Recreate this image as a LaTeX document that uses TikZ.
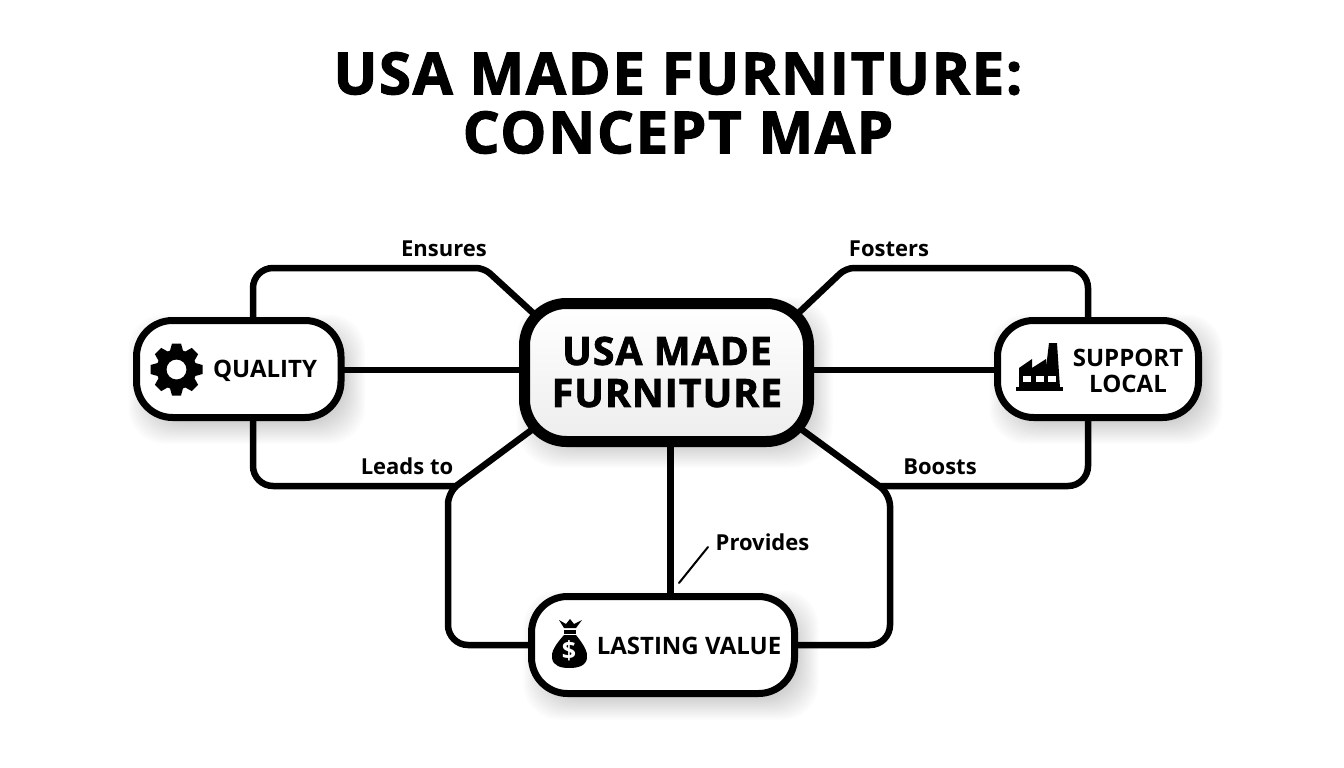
\documentclass[tikz,border=0pt]{standalone}
\usepackage{fontspec}
\usetikzlibrary{positioning}
\setmainfont{Open Sans}
\newfontfamily\heavyfont{Open Sans}[LetterSpace=3, BoldFeatures={FakeBold=2}]
\pgfdeclarelayer{shadow}
\pgfdeclarelayer{links}
\pgfsetlayers{shadow,links,main}
\tikzset{
  box/.style={draw=black, fill=white, line width=7pt, rounded corners=36pt, outer sep=0pt, inner sep=0pt},
  boxtext/.style={font=\bfseries\fontsize{24}{26}\selectfont, align=center, inner sep=0pt, text=black},
  linktext/.style={font=\bfseries\fontsize{22}{24}\selectfont, inner sep=0pt, text=black},
  heading/.style={font=\heavyfont\bfseries\fontsize{58}{59}\selectfont, align=center, inner sep=0pt},
  link/.style={draw=black, line width=6.5pt, rounded corners=20pt},
}
\newcommand{\softshadow}[2]{%
  \begin{pgfonlayer}{shadow}
  \foreach \g in {-6,-4,...,16}{
    \fill[black, opacity=.017, rounded corners=#2]
      ([shift={(8-\g,10-\g)}]#1.north west) rectangle ([shift={(8+\g,10+\g)}]#1.south east);
  }
  \end{pgfonlayer}}
\begin{document}
\begin{tikzpicture}[x=1pt, y=-1pt]
\useasboundingbox (0,0) rectangle (1344,768);
\begin{pgfonlayer}{shadow}
\fill[white] (0,0) rectangle (1344,768);
\end{pgfonlayer}
\node[heading] (title) at (678,103) {USA MADE FURNITURE:\\CONCEPT MAP};
\node[box, line width=11pt, rounded corners=42pt, minimum width=284pt, minimum height=138pt, top color=white, middle color=white, bottom color=black!7] (centre) at (666.5,372.5) {};
\node[font=\heavyfont\bfseries\fontsize{39}{42}\selectfont, align=center, inner sep=0pt] (centretext) at (667,372) {USA MADE\\FURNITURE};
\node[box, minimum width=204.5pt, minimum height=97pt] (quality) at (238.75,369) {};
\node[box, minimum width=201pt, minimum height=97pt] (support) at (1098,369) {};
\node[box, minimum width=263pt, minimum height=97pt] (value) at (663,645) {};
\node[boxtext] (qualitytext) at (265,371) {QUALITY};
\node[boxtext, font=\bfseries\fontsize{24}{26.5}\selectfont] (supporttext) at (1128,371) {SUPPORT\\LOCAL};
\node[boxtext] (valuetext) at (689,645.5) {LASTING VALUE};
\softshadow{centre}{42pt}
\softshadow{quality}{36pt}
\softshadow{support}{36pt}
\softshadow{value}{36pt}
\node[linktext] (ensures) at (444,249) {Ensures};
\node[linktext] (fosters) at (889,249) {Fosters};
\node[linktext] (leads) at (407,466) {Leads to};
\node[linktext] (boosts) at (940,467) {Boosts};
\node[linktext] (provides) at (762.5,542) {Provides};
\coordinate (ensuresA) at (253,268);
\coordinate (ensuresB) at (484,268);
\coordinate (ensuresC) at (545,324);
\coordinate (fostersA) at (1088,268);
\coordinate (fostersB) at (846,268);
\coordinate (fostersC) at (790,321);
\coordinate (leadsA) at (253,486);
\coordinate (leadsB) at (458,486);
\coordinate (boostsA) at (1088,486);
\coordinate (boostsB) at (880,486);
\coordinate (lowleftA) at (448,492);
\coordinate (lowleftB) at (448,645);
\coordinate (lowleftC) at (545,420);
\coordinate (lowrightA) at (890,494);
\coordinate (lowrightB) at (890,645);
\coordinate (lowrightC) at (790,421);
\coordinate (midline) at (666,370);
\coordinate (providesA) at (670.5,520);
\coordinate (leaderA) at (679,583);
\coordinate (leaderB) at (708,547);
\begin{pgfonlayer}{links}
\draw[link] (midline -| quality) -- (midline);
\draw[link] (midline) -- (midline -| support);
\draw[link] (centre.south -| providesA) -- (value.north -| providesA);
\draw[link] (quality.center -| ensuresA) -- (ensuresA) [rounded corners=8pt] -- (ensuresB) -- (ensuresC);
\draw[link] (support.center -| fostersA) -- (fostersA) [rounded corners=8pt] -- (fostersB) -- (fostersC);
\draw[link] (quality.center -| leadsA) -- (leadsA) -- (leadsB);
\draw[link] (support.center -| boostsA) -- (boostsA) -- (boostsB);
\draw[link, rounded corners=12pt] (lowleftC) -- (lowleftA) [rounded corners=20pt] -- (lowleftB) -- (value);
\draw[link, rounded corners=12pt] (lowrightC) -- (lowrightA) [rounded corners=20pt] -- (lowrightB) -- (value);
\end{pgfonlayer}
\draw[line width=2pt, line cap=round] (leaderA) -- (leaderB);
% gear
\foreach \a in {0,45,...,315}{
  \fill[shift={(176.5,369.5)}, rotate=\a] (-4.5,-26) -- (4.5,-26) -- (7,-17) -- (-7,-17) -- cycle;
}
\fill[even odd rule] (176.5,369.5) circle (20) (176.5,369.5) circle (10);
% factory
\fill (1016,387) rectangle (1063,391);
\fill (1019,388) -- (1019,368) -- (1032,359) -- (1032,368) -- (1046,359) -- (1046,368) -- (1049,343) -- (1057,343) -- (1060,388) -- cycle;
\foreach \x in {1023,1036,1048}{
  \fill[white] (\x,376) rectangle ++(8,5.5);
}
% money bag
\fill (559,620) -- (566,624) -- (570,619) -- (574,624) -- (582,620) -- (576,628) -- (564,628) -- cycle;
\fill (564,630) rectangle (576,634);
\fill (564,635) .. controls (555,645) and (551,652) .. (552,658) .. controls (553,666) and (561,668) .. (569,668) .. controls (578,668) and (586,666) .. (587,658) .. controls (588,652) and (584,645) .. (576,635) -- cycle;
\node[font=\bfseries\fontsize{25}{25}\selectfont, text=white, inner sep=0pt] (dollar) at (569,651) {\$};
\end{tikzpicture}
\end{document}
